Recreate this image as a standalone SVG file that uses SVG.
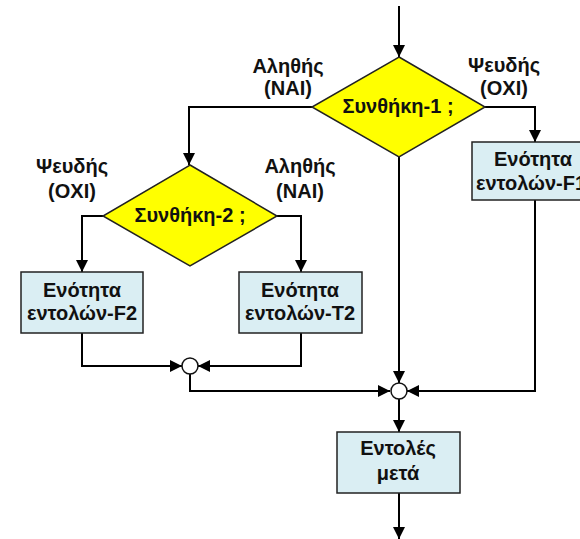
<svg xmlns="http://www.w3.org/2000/svg" width="580" height="539" viewBox="0 0 580 539">
  <style>
    .txt { font-family: "Liberation Sans", Arial, sans-serif; font-weight: bold; font-size: 20px; fill: #111; text-anchor: middle; }
    .box { fill: #DAEEF3; stroke: #222; stroke-width: 1.5; }
    .dec { fill: #FFFF00; stroke: #222; stroke-width: 1.5; }
    .join { fill: #fff; stroke: #111; stroke-width: 1.5; }
    .wire { fill: none; stroke: #000; stroke-width: 2; }
  </style>
  <defs>
    <marker id="arrow" markerUnits="userSpaceOnUse" markerWidth="12" markerHeight="12" viewBox="0 0 12 12" refX="12" refY="6" orient="auto">
      <path d="M0,0 L12,6 L0,12 Z" fill="#000"/>
    </marker>
  </defs>

  <rect width="580" height="539" fill="#fff"/>

  <!-- connectors -->
  <g id="connectors" class="wire">
    <path d="M399,6 V57" marker-end="url(#arrow)"/>
    <path d="M485,107 H535 V142" marker-end="url(#arrow)"/>
    <path d="M312,107 H189 V165" marker-end="url(#arrow)"/>
    <path d="M103,216 H82 V272" marker-end="url(#arrow)"/>
    <path d="M277,216 H301 V272" marker-end="url(#arrow)"/>
    <path d="M82,333 V366 H182" marker-end="url(#arrow)"/>
    <path d="M301,333 V366 H198" marker-end="url(#arrow)"/>
    <path d="M190,374 V391 H390" marker-end="url(#arrow)"/>
    <path d="M399,157 V383" marker-end="url(#arrow)"/>
    <path d="M535,200 V391 H407" marker-end="url(#arrow)"/>
    <path d="M399,399 V432" marker-end="url(#arrow)"/>
    <path d="M399,493 V539" marker-end="url(#arrow)"/>
  </g>

  <!-- branch labels -->
  <g id="labels">
    <text class="txt" x="288" y="73">Αληθής</text>
    <text class="txt" x="288" y="95">(ΝΑΙ)</text>
    <text class="txt" x="504" y="72">Ψευδής</text>
    <text class="txt" x="504" y="95">(ΟΧΙ)</text>
    <text class="txt" x="72" y="173">Ψευδής</text>
    <text class="txt" x="72" y="198">(ΟΧΙ)</text>
    <text class="txt" x="300" y="173">Αληθής</text>
    <text class="txt" x="300" y="198">(ΝΑΙ)</text>
  </g>

  <g id="condition1">
    <polygon class="dec" points="399,57 485,107 399,157 312,107"/>
    <text class="txt" x="398" y="113">Συνθήκη-1 ;</text>
  </g>

  <g id="condition2">
    <polygon class="dec" points="190,165 277,216 190,266 103,216"/>
    <text class="txt" x="190" y="222">Συνθήκη-2 ;</text>
  </g>

  <g id="block-F1">
    <rect class="box" x="472" y="142" width="126" height="58"/>
    <text class="txt" x="533" y="166">Ενότητα</text>
    <text class="txt" x="531" y="190">εντολών-F1</text>
  </g>

  <g id="block-F2">
    <rect class="box" x="21" y="272" width="122" height="61"/>
    <text class="txt" x="82" y="297">Ενότητα</text>
    <text class="txt" x="82" y="320">εντολών-F2</text>
  </g>

  <g id="block-T2">
    <rect class="box" x="239" y="272" width="123" height="61"/>
    <text class="txt" x="300" y="297">Ενότητα</text>
    <text class="txt" x="300" y="320">εντολών-Τ2</text>
  </g>

  <g id="join1">
    <circle class="join" cx="190" cy="366" r="8"/>
  </g>

  <g id="join2">
    <circle class="join" cx="399" cy="391" r="8"/>
  </g>

  <g id="after">
    <rect class="box" x="337" y="432" width="123" height="61"/>
    <text class="txt" x="398" y="455">Εντολές</text>
    <text class="txt" x="398" y="480">μετά</text>
  </g>
</svg>
